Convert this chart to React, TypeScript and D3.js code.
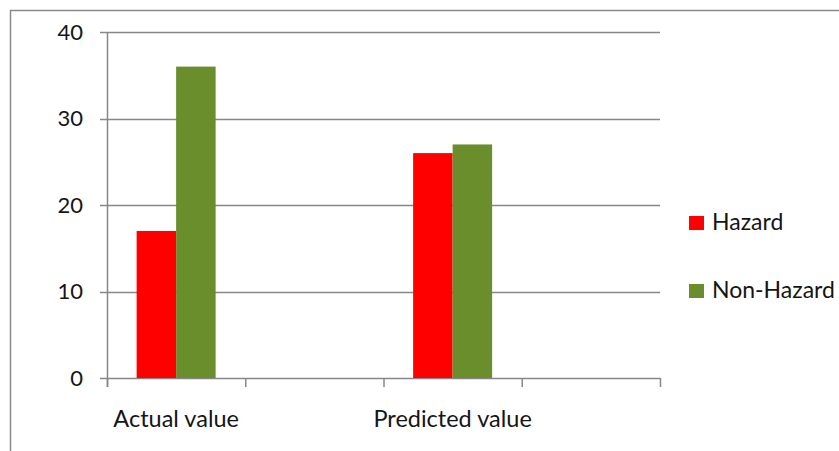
import React, { useEffect, useRef } from "react";
import * as d3 from "d3";

// chart data
const categories = ["Actual value", "", "Predicted value", " "];
const seriesNames = ["Hazard", "Non-Hazard"];
const hazard = [17, null, 26, null];
const nonHazard = [36, null, 27, null];
const yTicks = [0, 10, 20, 30, 40];
const colors = ["#ff0000", "#6b8e2c"];

const App = () => {
  const svgRef = useRef<SVGSVGElement>(null);

  useEffect(() => {
    const svg = d3.select(svgRef.current);
    svg.selectAll("*").remove();

    const w = 839;
    const h = 451;
    const font = "Lato, 'Open Sans', sans-serif";
    const grey = "#878787";

    svg.attr("width", w).attr("height", h).style("background", "#fff");

    // outer frame of the chart area
    svg
      .append("rect")
      .attr("x", 10.5)
      .attr("y", 10.5)
      .attr("width", w + 20)
      .attr("height", h + 20)
      .attr("fill", "none")
      .attr("stroke", "#8a8a8a")
      .attr("stroke-width", 1.5);

    const left = 107;
    const right = 660;
    const top = 32;
    const bottom = 378;

    // x scales
    const x = d3.scaleBand().domain(categories).range([left, right]);
    const bw = 39.5;
    const x1 = d3
      .scaleBand()
      .domain(seriesNames)
      .range([x.bandwidth() / 2 - bw, x.bandwidth() / 2 + bw]);

    // y scale
    const y = d3.scaleLinear().domain([0, 40]).range([bottom, top]);

    // gridlines
    svg
      .append("g")
      .selectAll("line")
      .data(yTicks)
      .join("line")
      .attr("x1", left - 7)
      .attr("x2", right)
      .attr("y1", (d) => Math.round(y(d)) + 0.5)
      .attr("y2", (d) => Math.round(y(d)) + 0.5)
      .attr("stroke", grey)
      .attr("stroke-width", 1.5);

    // y tick labels
    svg
      .append("g")
      .selectAll("text")
      .data(yTicks)
      .join("text")
      .attr("x", 83)
      .attr("y", (d) => y(d))
      .attr("dy", "0.35em")
      .attr("text-anchor", "end")
      .attr("font-family", font)
      .attr("font-size", 22)
      .attr("fill", "#151515")
      .text((d) => d);

    // bars
    const series = [hazard, nonHazard];
    series.forEach((vals, si) => {
      svg
        .append("g")
        .selectAll("rect")
        .data(categories.map((c, i) => ({ c, v: vals[i] })).filter((d) => d.v != null))
        .join("rect")
        .attr("x", (d) => x(d.c)! + x1(seriesNames[si])!)
        .attr("y", (d) => y(d.v as number))
        .attr("width", x1.bandwidth())
        .attr("height", (d) => bottom - y(d.v as number))
        .attr("fill", colors[si]);
    });

    // y axis line
    svg
      .append("line")
      .attr("x1", left + 0.5)
      .attr("x2", left + 0.5)
      .attr("y1", top)
      .attr("y2", bottom + 9)
      .attr("stroke", grey)
      .attr("stroke-width", 1.5);

    // x axis ticks
    const tickXs = categories.map((c) => x(c)!).concat([right]);
    svg
      .append("g")
      .selectAll("line")
      .data(tickXs)
      .join("line")
      .attr("x1", (d) => d + 0.5)
      .attr("x2", (d) => d + 0.5)
      .attr("y1", bottom)
      .attr("y2", bottom + 9)
      .attr("stroke", grey)
      .attr("stroke-width", 1.5);

    // category labels
    svg
      .append("g")
      .selectAll("text")
      .data(categories.filter((c) => c.trim() !== ""))
      .join("text")
      .attr("x", (d) => x(d)! + x.bandwidth() / 2)
      .attr("y", 427)
      .attr("text-anchor", "middle")
      .attr("font-family", font)
      .attr("font-size", 23.5)
      .attr("fill", "#151515")
      .text((d) => d);

    // legend
    const legend = svg
      .append("g")
      .selectAll("g")
      .data(seriesNames)
      .join("g")
      .attr("transform", (d, i) => `translate(689, ${216 + i * 68})`);
    legend
      .append("rect")
      .attr("width", 15)
      .attr("height", 14)
      .attr("fill", (d, i) => colors[i]);
    legend
      .append("text")
      .attr("x", 23)
      .attr("y", 14)
      .attr("font-family", font)
      .attr("font-size", 23)
      .attr("fill", "#151515")
      .text((d) => d);
  }, []);

  return (
    <svg
      ref={svgRef}
      style={{ position: "absolute", left: 0, top: 0, display: "block" }}
    ></svg>
  );
};

export default App;
